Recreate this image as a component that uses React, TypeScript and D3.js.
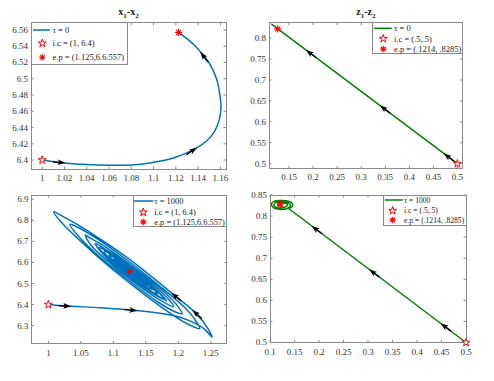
import * as d3 from "d3";

type Pt = [number, number];
type Arrow = [number, number, number, number];

const BLUE = "#0072BD";
const GREEN = "#008000";
const RED = "#ff0000";

// ---- x1-x2, tau = 0 ----
const x1x2Tau0: Pt[] = [
  [1, 6.4], [1.01, 6.398], [1.02, 6.3965], [1.04, 6.3945], [1.06, 6.3935],
  [1.08, 6.394], [1.098, 6.3968], [1.118, 6.4025], [1.1376, 6.414], [1.148, 6.424],
  [1.155, 6.436], [1.159, 6.45], [1.1605, 6.465], [1.1595, 6.48], [1.1565, 6.5],
  [1.1496, 6.52], [1.1376, 6.54], [1.1225, 6.557],
];
const x1x2Tau0Arrows: Arrow[] = [
  [1.0175, 6.397, 1.03, 6.3958],
  [1.136, 6.4127, 1.146, 6.422],
  [1.144, 6.529, 1.1376, 6.54],
];
const x1x2Tau0Ic: Pt = [1, 6.4];
const x1x2Tau0Ep: Pt = [1.1225, 6.557];
const x1x2Tau0XTicks = [1, 1.02, 1.04, 1.06, 1.08, 1.1, 1.12, 1.14, 1.16];
const x1x2Tau0YTicks = [6.4, 6.42, 6.44, 6.46, 6.48, 6.5, 6.52, 6.54, 6.56];

// ---- z1-z2, tau = 0 ----
const z1z2Tau0: Pt[] = [[0.5, 0.5], [0.113, 0.834]];
const z1z2Tau0Arrows: Arrow[] = [
  [0.478, 0.519, 0.458, 0.5363],
  [0.345, 0.6338, 0.325, 0.6511],
  [0.1916, 0.7662, 0.1716, 0.7835],
];
const z1z2Tau0Ic: Pt = [0.5, 0.5];
const z1z2Tau0Ep: Pt = [0.1265, 0.8223];
const z1z2Tau0XTicks = [0.15, 0.2, 0.25, 0.3, 0.35, 0.4, 0.45, 0.5];
const z1z2Tau0YTicks = [0.5, 0.55, 0.6, 0.65, 0.7, 0.75, 0.8];

// ---- x1-x2, tau = 1000 ----
const x1x2Tau1000: Pt[] = [
  [1, 6.4], [1.029, 6.393], [1.08, 6.385], [1.131, 6.373], [1.18, 6.355],
  [1.205, 6.338], [1.225, 6.313], [1.24, 6.285], [1.252, 6.246],
  [1.245, 6.29], [1.226, 6.362], [1.194, 6.444], [1.16, 6.53], [1.126, 6.612],
  [1.09, 6.69], [1.05, 6.77], [1.02, 6.822], [1.008, 6.841],
  [1.02, 6.791], [1.05, 6.7], [1.1, 6.564], [1.15, 6.443], [1.2, 6.334],
  [1.222, 6.297], [1.233, 6.286],
  [1.225, 6.332], [1.21, 6.386], [1.17, 6.492], [1.12, 6.614], [1.07, 6.722],
  [1.045, 6.767], [1.033, 6.781],
  [1.045, 6.729], [1.07, 6.652], [1.12, 6.524], [1.17, 6.41], [1.195, 6.366],
  [1.206, 6.357],
  [1.2, 6.389], [1.18, 6.455], [1.13, 6.58], [1.08, 6.689], [1.065, 6.714],
  [1.057, 6.73],
  [1.065, 6.684], [1.09, 6.61], [1.13, 6.51], [1.17, 6.425], [1.193, 6.39],
  [1.185, 6.425], [1.16, 6.499], [1.12, 6.597], [1.085, 6.668], [1.072, 6.69],
  [1.085, 6.637], [1.12, 6.541], [1.16, 6.454], [1.182, 6.418],
  [1.175, 6.444], [1.15, 6.516], [1.115, 6.602], [1.09, 6.652], [1.078, 6.672],
  [1.09, 6.628], [1.125, 6.538], [1.155, 6.47], [1.178, 6.428],
  [1.168, 6.462], [1.14, 6.535], [1.11, 6.608], [1.086, 6.652],
  [1.098, 6.608], [1.13, 6.526], [1.158, 6.462], [1.168, 6.452],
  [1.158, 6.482], [1.13, 6.56], [1.105, 6.616], [1.093, 6.634],
  [1.105, 6.596], [1.13, 6.532], [1.16, 6.472],
  [1.15, 6.505], [1.125, 6.57], [1.1, 6.616],
  [1.112, 6.582], [1.135, 6.526], [1.152, 6.492],
  [1.14, 6.53], [1.118, 6.584], [1.106, 6.602],
  [1.12, 6.565], [1.146, 6.506],
  [1.13, 6.55], [1.112, 6.59],
  [1.128, 6.548], [1.14, 6.52],
  [1.125, 6.565], [1.117, 6.578],
  [1.125, 6.557],
];
const x1x2Tau1000Arrows: Arrow[] = [
  [1.029, 6.393, 1.045, 6.3905],
  [1.131, 6.373, 1.15, 6.367],
  [1.226, 6.362, 1.215, 6.392],
  [1.194, 6.444, 1.18, 6.48],
];
const x1x2Tau1000Ic: Pt = [1, 6.4];
const x1x2Tau1000Ep: Pt = [1.125, 6.557];
const x1x2Tau1000XTicks = [1, 1.05, 1.1, 1.15, 1.2, 1.25];
const x1x2Tau1000YTicks = [6.3, 6.4, 6.5, 6.6, 6.7, 6.8, 6.9];

// ---- z1-z2, tau = 1000 ----
const z1z2Tau1000Line: Pt[] = [[0.5, 0.5], [0.138, 0.818]];
const z1z2Tau1000Cluster: Pt[] = [
  [0.138, 0.818], [0.145, 0.822], [0.146, 0.829], [0.138, 0.835], [0.122, 0.837],
  [0.108, 0.835], [0.103, 0.828], [0.107, 0.82], [0.12, 0.816], [0.135, 0.818],
  [0.142, 0.825], [0.137, 0.832], [0.122, 0.834], [0.11, 0.831], [0.108, 0.825],
  [0.116, 0.82], [0.13, 0.821], [0.136, 0.827], [0.128, 0.831], [0.117, 0.829],
  [0.116, 0.825], [0.124, 0.824], [0.1214, 0.8285],
];
const z1z2Tau1000Arrows: Arrow[] = [
  [0.4546, 0.5399, 0.4346, 0.5575],
  [0.3087, 0.668, 0.2887, 0.6856],
  [0.1915, 0.7709, 0.1715, 0.7885],
];
const z1z2Tau1000Ic: Pt = [0.5, 0.5];
const z1z2Tau1000Ep: Pt = [0.1214, 0.8285];
const z1z2Tau1000XTicks = [0.1, 0.15, 0.2, 0.25, 0.3, 0.35, 0.4, 0.45, 0.5];
const z1z2Tau1000YTicks = [0.5, 0.55, 0.6, 0.65, 0.7, 0.75, 0.8, 0.85];

const FONT = "'Liberation Serif', 'Times New Roman', serif";
const fmt = (v: number) => String(+v.toFixed(4));

const starPath = d3.symbol(d3.symbolStar, 20)() as string;

const Asterisk = ({ cx, cy, r = 3.6 }: { cx: number; cy: number; r?: number }) => {
  const d = r * 0.7071;
  return (
    <g stroke={RED} strokeWidth={1.1}>
      <line x1={cx - r} y1={cy} x2={cx + r} y2={cy} />
      <line x1={cx} y1={cy - r} x2={cx} y2={cy + r} />
      <line x1={cx - d} y1={cy - d} x2={cx + d} y2={cy + d} />
      <line x1={cx - d} y1={cy + d} x2={cx + d} y2={cy - d} />
      <circle cx={cx} cy={cy} r={1.4} fill={RED} stroke="none" />
    </g>
  );
};

const Star = ({ cx, cy }: { cx: number; cy: number }) => (
  <path d={starPath} transform={`translate(${cx},${cy})`} fill="white" stroke={RED} strokeWidth={1} />
);

const Panel = ({ cfg }: { cfg: any }) => {
  const x = d3.scaleLinear().domain(cfg.xDomain).range([cfg.left, cfg.right]);
  const y = d3.scaleLinear().domain(cfg.yDomain).range([cfg.bottom, cfg.top]);
  const smooth = d3.line<Pt>().x((d) => x(d[0])).y((d) => y(d[1])).curve(d3.curveCatmullRom.alpha(0.5));
  const straight = d3.line<Pt>().x((d) => x(d[0])).y((d) => y(d[1]));
  const tl = 2.5;
  const lg = cfg.legend;
  return (
    <g fontFamily={FONT}>
      {/* box */}
      <rect x={cfg.left} y={cfg.top} width={cfg.right - cfg.left} height={cfg.bottom - cfg.top}
        fill="white" stroke="#8a8a8a" strokeWidth={1} shapeRendering="crispEdges" />
      {cfg.xTicks.map((t: number) => (
        <g key={"x" + t}>
          <line x1={x(t)} x2={x(t)} y1={cfg.bottom} y2={cfg.bottom - tl} stroke="#8a8a8a" />
          <line x1={x(t)} x2={x(t)} y1={cfg.top} y2={cfg.top + tl} stroke="#8a8a8a" />
          <text x={x(t)} y={cfg.bottom + 12} fontSize={9} fill="#333" textAnchor="middle">{fmt(t)}</text>
        </g>
      ))}
      {cfg.yTicks.map((t: number) => (
        <g key={"y" + t}>
          <line x1={cfg.left} x2={cfg.left + tl} y1={y(t)} y2={y(t)} stroke="#8a8a8a" />
          <line x1={cfg.right} x2={cfg.right - tl} y1={y(t)} y2={y(t)} stroke="#8a8a8a" />
          <text x={cfg.left - 3} y={y(t)} dy="0.33em" fontSize={9} fill="#333" textAnchor="end">{fmt(t)}</text>
        </g>
      ))}
      {cfg.title && (
        <text x={(cfg.left + cfg.right) / 2} y={15} fontSize={10} fontWeight="bold" textAnchor="middle" fill="#222">
          {cfg.title[0]}<tspan fontSize={7} dy={3}>1</tspan><tspan dy={-3}>-{cfg.title[0]}</tspan><tspan fontSize={7} dy={3}>2</tspan>
        </text>
      )}
      {/* curves */}
      {cfg.paths.map((p: any, i: number) => (
        <path key={i} d={(p.smooth ? smooth : straight)(p.pts) as string} fill="none"
          stroke={cfg.color} strokeWidth={1.5} strokeLinejoin="round" />
      ))}
      {/* arrows */}
      {cfg.arrows.map((a: Arrow, i: number) => {
        const px = x(a[0]), py = y(a[1]);
        const ang = (Math.atan2(y(a[3]) - py, x(a[2]) - px) * 180) / Math.PI;
        return (
          <g key={"a" + i} transform={`translate(${px},${py}) rotate(${ang})`}>
            <line x1={-9} y1={0} x2={-2} y2={0} stroke="black" strokeWidth={1.3} />
            <path d="M4,0 L-4,-2.8 L-2.2,0 L-4,2.8 Z" fill="black" />
          </g>
        );
      })}
      <Star cx={x(cfg.ic[0])} cy={y(cfg.ic[1])} />
      <Asterisk cx={x(cfg.ep[0])} cy={y(cfg.ep[1])} />
      {/* legend */}
      <g>
        <rect x={lg.x0} y={lg.y0} width={lg.x1 - lg.x0} height={lg.y1 - lg.y0}
          fill="white" stroke="#8a8a8a" strokeWidth={1} shapeRendering="crispEdges" />
        <line x1={lg.lineX0} x2={lg.lineX1} y1={lg.rows[0]} y2={lg.rows[0]} stroke={cfg.color} strokeWidth={1.5} />
        <Star cx={lg.markerX} cy={lg.rows[1]} />
        <Asterisk cx={lg.markerX} cy={lg.rows[2]} r={3.2} />
        {lg.labels.map((s: string, i: number) => (
          <text key={s} x={lg.textX} y={lg.rows[i]} dy="0.33em" fontSize={lg.fontSize} fill="#222">{s}</text>
        ))}
      </g>
    </g>
  );
};

const panels = [
  {
    left: 31, right: 226, top: 22.7, bottom: 169,
    xDomain: [0.99, 1.165], yDomain: [6.389, 6.569],
    xTicks: x1x2Tau0XTicks, yTicks: x1x2Tau0YTicks,
    title: ["x"], color: BLUE,
    paths: [{ pts: x1x2Tau0, smooth: true }],
    arrows: x1x2Tau0Arrows, ic: x1x2Tau0Ic, ep: x1x2Tau0Ep,
    legend: {
      x0: 31, x1: 127, y0: 22.7, y1: 64.3, rows: [30, 43.3, 57.3],
      lineX0: 33, lineX1: 50, markerX: 42.3, textX: 52.5, fontSize: 8.5,
      labels: ["τ = 0", "i.c = (1, 6.4)", "e.p = (1.125,6.6.557)"],
    },
  },
  {
    left: 269, right: 462.7, top: 22.7, bottom: 168.3,
    xDomain: [0.1084, 0.511], yDomain: [0.489, 0.837],
    xTicks: z1z2Tau0XTicks, yTicks: z1z2Tau0YTicks,
    title: ["z"], color: GREEN,
    paths: [{ pts: z1z2Tau0, smooth: false }],
    arrows: z1z2Tau0Arrows, ic: z1z2Tau0Ic, ep: z1z2Tau0Ep,
    legend: {
      x0: 372.7, x1: 462.7, y0: 22.7, y1: 53.3, rows: [28.3, 38.7, 49],
      lineX0: 374, lineX1: 391.7, markerX: 383.3, textX: 394, fontSize: 8.5,
      labels: ["τ = 0", "i.c = (.5,.5)", "e.p = (.1214, .8285)"],
    },
  },
  {
    left: 31.5, right: 226.7, top: 195, bottom: 343.5,
    xDomain: [0.974, 1.2746], yDomain: [6.2155, 6.92],
    xTicks: x1x2Tau1000XTicks, yTicks: x1x2Tau1000YTicks,
    title: null, color: BLUE,
    paths: [{ pts: x1x2Tau1000, smooth: true }],
    arrows: x1x2Tau1000Arrows, ic: x1x2Tau1000Ic, ep: x1x2Tau1000Ep,
    legend: {
      x0: 133.3, x1: 226.7, y0: 195, y1: 226.7, rows: [201, 212.3, 222],
      lineX0: 134, lineX1: 153.3, markerX: 143.3, textX: 154.3, fontSize: 8.4,
      labels: ["τ = 1000", "i.c = (1, 6.4)", "e.p = (1.125,6.6.557)"],
    },
  },
  {
    left: 270, right: 466, top: 195, bottom: 342.5,
    xDomain: [0.1, 0.5], yDomain: [0.5, 0.85],
    xTicks: z1z2Tau1000XTicks, yTicks: z1z2Tau1000YTicks,
    title: null, color: GREEN,
    paths: [{ pts: z1z2Tau1000Line, smooth: false }, { pts: z1z2Tau1000Cluster, smooth: true }],
    arrows: z1z2Tau1000Arrows, ic: z1z2Tau1000Ic, ep: z1z2Tau1000Ep,
    legend: {
      x0: 383.3, x1: 466, y0: 195, y1: 225, rows: [200, 210.7, 220],
      lineX0: 385, lineX1: 402.7, markerX: 392.7, textX: 404, fontSize: 7.6,
      labels: ["τ = 1000", "i.c = (.5,.5)", "e.p = (.1214, .8285)"],
    },
  },
];

export default function App() {
  return (
    <svg width={494} height={381} style={{ position: "absolute", left: 0, top: 0, background: "white" }}>
      {panels.map((p, i) => (
        <Panel key={i} cfg={p} />
      ))}
    </svg>
  );
}
